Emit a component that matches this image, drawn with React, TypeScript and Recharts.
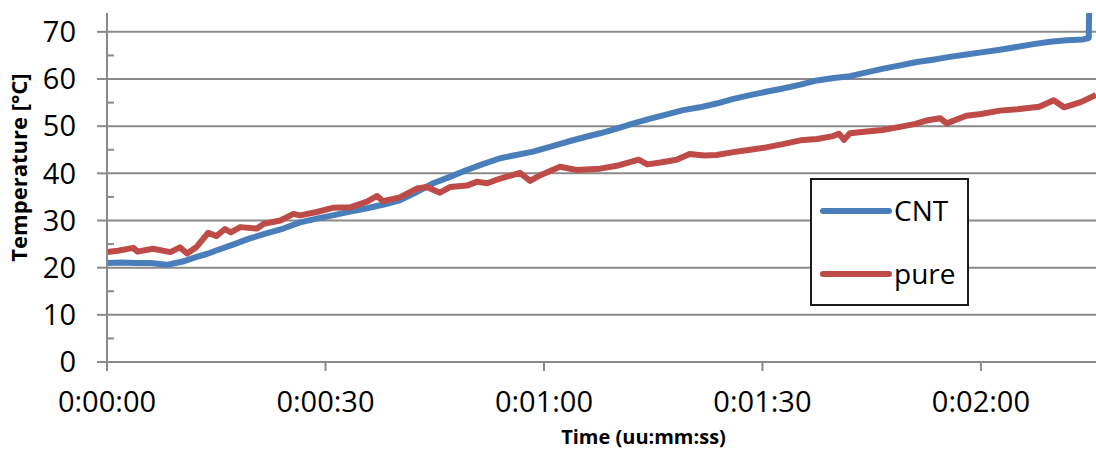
import React from "react";
import { LineChart, Line, XAxis, YAxis, CartesianGrid, Legend } from "recharts";

// CNT series (blue): time in seconds, temperature in °C
const cntTime = [
  0, 2, 4, 6, 8.2, 10.4, 12.3, 13.7, 15.1, 17.3, 19.6, 22, 24.2, 26.5, 28.8,
  31, 33.4, 35.7, 38, 40.2, 42.5, 44.8, 47, 49.4, 51.7, 54, 56.2, 58.5, 60.8,
  63.2, 65.4, 67.7, 70, 72.3, 74.6, 76.9, 79.1, 81.4, 83.7, 86, 88.3, 90.5,
  92.8, 95.2, 97.5, 99.8, 102, 104.3, 106.6, 108.9, 111.2, 113.4, 115.7, 118,
  120.3, 122.6, 124.9, 127.2, 129.5, 131.8, 134, 134.8, 135.1,
];
const cntTemp = [
  21.0, 21.1, 21.0, 21.0, 20.6, 21.3, 22.3, 22.9, 23.7, 24.9, 26.2, 27.3, 28.3,
  29.6, 30.4, 31.1, 31.9, 32.6, 33.4, 34.3, 36.0, 37.9, 39.2, 40.7, 42.0, 43.2,
  43.9, 44.6, 45.6, 46.7, 47.6, 48.5, 49.5, 50.6, 51.6, 52.5, 53.4, 54.0, 54.8,
  55.8, 56.6, 57.3, 58.0, 58.8, 59.7, 60.2, 60.6, 61.4, 62.2, 62.9, 63.6, 64.1,
  64.7, 65.2, 65.7, 66.2, 66.8, 67.4, 67.9, 68.2, 68.4, 68.7, 95,
];

// pure series (red)
const pureTime = [
  0, 1.5, 3.6, 4.2, 6.3, 8.7, 10, 11, 12.3, 13.9, 15, 16.2, 17, 18.3, 20.6,
  21.5, 23.8, 25.6, 26.5, 28.8, 31, 33.4, 35.7, 37.1, 37.9, 40.2, 42.6, 43.9,
  45.7, 47.1, 49.4, 50.8, 52.2, 54, 56.7, 58.1, 59.5, 62.2, 64.5, 67.7, 70, 73,
  74.2, 76, 78.2, 80, 82, 83.7, 86, 88.3, 90.5, 92.8, 95.2, 97.5, 99.7, 100.5,
  101.2, 102, 104, 106.5, 108.7, 111, 112.5, 114.4, 115.3, 118, 120, 122.6, 125,
  128, 130, 131.4, 133.7, 135.8,
];
const pureTemp = [
  23.3, 23.6, 24.2, 23.4, 24.0, 23.3, 24.3, 23.0, 24.4, 27.4, 26.7, 28.2, 27.5,
  28.6, 28.3, 29.3, 30.0, 31.4, 31.1, 31.8, 32.7, 32.8, 34.0, 35.2, 34.1, 34.9,
  36.8, 37.1, 35.9, 37.1, 37.4, 38.2, 37.9, 38.9, 40.1, 38.4, 39.6, 41.4, 40.7,
  41.0, 41.6, 42.9, 41.9, 42.3, 42.9, 44.1, 43.8, 43.9, 44.5, 45.0, 45.5, 46.2,
  47.0, 47.3, 47.9, 48.4, 47.1, 48.5, 48.8, 49.2, 49.8, 50.5, 51.2, 51.7, 50.6,
  52.2, 52.6, 53.3, 53.6, 54.1, 55.5, 54.0, 55.1, 56.6,
];

const xTicks = [0, 30, 60, 90, 120];
const yTicks = [0, 5, 10, 15, 20, 25, 30, 35, 40, 45, 50, 55, 60, 65, 70];
const gridValues = [10, 20, 30, 40, 50, 60, 70];

const cntData = cntTime.map((t, i) => ({ t, v: cntTemp[i] }));
const pureData = pureTime.map((t, i) => ({ t, v: pureTemp[i] }));

const FONT = "'Open Sans', 'Noto Sans', sans-serif";
const GREY = "#8a8a8a";
const BLUE = "#4a7ebb";
const RED = "#be4b48";
const Y_TICK_SIZE = 10;
const Y_TICK_MARGIN = 21;

const fmtTime = (s: number) => {
  const m = Math.floor(s / 60);
  const sec = Math.round(s % 60);
  return `0:${String(m).padStart(2, "0")}:${String(sec).padStart(2, "0")}`;
};

// major ticks go outward with a label, minor ticks (every 5) point inward
const YTick = (props: any) => {
  const { x, y, payload } = props;
  const axisX = x + Y_TICK_SIZE + Y_TICK_MARGIN;
  if (payload.value % 10 !== 0) {
    return <line x1={axisX} x2={axisX + 7} y1={y} y2={y} stroke={GREY} strokeWidth={2} />;
  }
  return (
    <g>
      <line x1={axisX - Y_TICK_SIZE} x2={axisX} y1={y} y2={y} stroke={GREY} strokeWidth={2} />
      <text x={x} y={y} dy="0.355em" textAnchor="end" fontSize={29} fontFamily={FONT} fill="#000">
        {payload.value}
      </text>
    </g>
  );
};

const LegendBox = (props: any) => {
  const items = props.payload || [];
  return (
    <svg width={159} height={128} style={{ display: "block" }}>
      <rect x={1} y={1} width={157} height={126} fill="#fff" stroke="#1a1a1a" strokeWidth={2} />
      {items.map((it: any, i: number) => {
        const cy = 33 + i * 63;
        return (
          <g key={it.value}>
            <line x1={13} x2={79} y1={cy} y2={cy} stroke={it.color} strokeWidth={6} strokeLinecap="round" />
            <text x={84} y={cy} dy="0.36em" fontSize={28} fontFamily={FONT} fill="#000">
              {it.value}
            </text>
          </g>
        );
      })}
    </svg>
  );
};

export default function App() {
  return (
    <div style={{ position: "absolute", left: 0, top: 0, background: "#fff" }}>
      <LineChart width={1096} height={450} margin={{ top: 13, right: 0, left: 0, bottom: 0 }}>
        <CartesianGrid vertical={false} horizontalValues={gridValues} stroke={GREY} strokeWidth={2} />
        <XAxis
          type="number"
          dataKey="t"
          domain={[0, 135.8]}
          allowDataOverflow
          ticks={xTicks}
          tickFormatter={fmtTime}
          height={88}
          tickSize={9}
          tickMargin={20}
          axisLine={{ stroke: GREY, strokeWidth: 2 }}
          tickLine={{ stroke: GREY, strokeWidth: 2 }}
          tick={{ fontSize: 29, fontFamily: FONT, fill: "#000" }}
          label={{
            value: "Time (uu:mm:ss)",
            position: "insideBottom",
            offset: 6,
            dx: 42,
            fontSize: 20,
            fontWeight: "bold",
            fontFamily: FONT,
            fill: "#000",
          }}
        />
        <YAxis
          type="number"
          domain={[0, 74]}
          allowDataOverflow
          ticks={yTicks}
          interval={0}
          width={107}
          tickSize={Y_TICK_SIZE}
          tickMargin={Y_TICK_MARGIN}
          tickLine={false}
          axisLine={{ stroke: GREY, strokeWidth: 2 }}
          tick={<YTick />}
          label={{
            content: (p: any) => {
              const vb = p.viewBox;
              const cx = vb.x + 27;
              const cy = vb.y + vb.height / 2 - 20;
              return (
                <text
                  x={cx}
                  y={cy}
                  transform={`rotate(-90, ${cx}, ${cy})`}
                  textAnchor="middle"
                  fontSize={22}
                  fontWeight="bold"
                  fontFamily={FONT}
                  fill="#000"
                >
                  Temperature [°C]
                </text>
              );
            },
          }}
        />
        <Legend
          layout="vertical"
          align="center"
          verticalAlign="middle"
          wrapperStyle={{ left: 810, top: 178, width: 159, height: 128 }}
          content={<LegendBox />}
        />
        <Line
          data={cntData}
          dataKey="v"
          name="CNT"
          type="linear"
          stroke={BLUE}
          strokeWidth={6}
          strokeLinejoin="round"
          dot={false}
          isAnimationActive={false}
        />
        <Line
          data={pureData}
          dataKey="v"
          name="pure"
          type="linear"
          stroke={RED}
          strokeWidth={6}
          strokeLinejoin="round"
          dot={false}
          isAnimationActive={false}
        />
      </LineChart>
    </div>
  );
}
